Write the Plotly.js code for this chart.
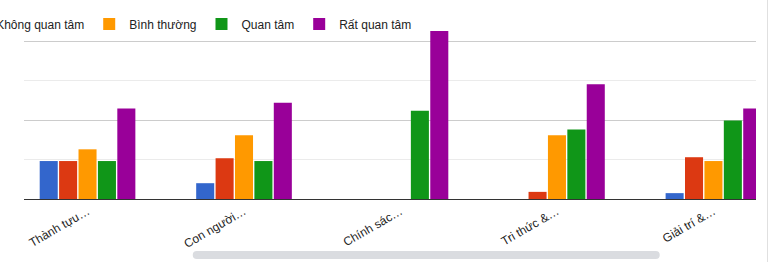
<!DOCTYPE html>
<html>
<head>
<meta charset="utf-8">
<script src="https://cdn.plot.ly/plotly-3.0.1.min.js"></script>
<style>
  html, body { margin: 0; padding: 0; background: #ffffff; }
  #chart { width: 769px; height: 262px; }
</style>
</head>
<body>
<div id="chart"></div>
<script>
// Categories (truncated labels as shown)
const categories = ['Thành tựu…', 'Con người…', 'Chính sác…', 'Tri thức &…', 'Giải trí &…'];

// Series names
const seriesNames = ['Hoàn toàn không quan tâm', 'Không quan tâm', 'Bình thường', 'Quan tâm', 'Rất quan tâm'];

// Series values (percent of respondents)
const hoanToanKhong = [14.9, 6.2, 0, 0, 2.3];
const khongQuanTam  = [14.9, 16.0, 0, 2.8, 16.4];
const binhThuong    = [19.5, 25.0, 0, 25.0, 14.9];
const quanTam       = [14.9, 14.9, 34.6, 27.3, 30.8];
const ratQuanTam    = [35.5, 37.8, 65.9, 45.0, 35.5];

const seriesValues = [hoanToanKhong, khongQuanTam, binhThuong, quanTam, ratQuanTam];
const colors = ['#3366cc', '#dc3912', '#ff9900', '#109618', '#990099'];

const traces = seriesNames.map((name, i) => ({
  type: 'bar',
  name: name,
  x: categories,
  y: seriesValues[i],
  marker: { color: colors[i], line: { width: 0 } },
  hoverinfo: 'skip'
}));

const layout = {
  width: 769,
  height: 262,
  margin: { l: 24, r: 13, t: 25, b: 63, autoexpand: false },
  paper_bgcolor: '#ffffff',
  plot_bgcolor: '#ffffff',
  font: { family: 'Arial, "Liberation Sans", sans-serif', size: 12, color: '#222222' },
  barmode: 'group',
  bargap: 0.38,
  bargroupgap: 0.07,
  showlegend: true,
  legend: {
    orientation: 'h',
    xref: 'paper', yref: 'paper',
    x: 0.536, xanchor: 'right',
    y: 1.0057, yanchor: 'middle',
    font: { size: 12, color: '#222222' },
    bgcolor: 'rgba(0,0,0,0)',
    borderwidth: 0
  },
  xaxis: {
    type: 'category',
    range: [-0.406, 4.272],
    showgrid: false,
    zeroline: false,
    showline: true,
    linecolor: '#333333',
    linewidth: 1,
    ticks: '',
    tickangle: -30,
    tickfont: { size: 12, color: '#222222' },
    fixedrange: true
  },
  yaxis: {
    range: [0, 68.3],
    tick0: 0,
    dtick: 31,
    showgrid: true,
    gridcolor: '#cccccc',
    gridwidth: 1,
    minor: { dtick: 15.5, tick0: 0, showgrid: true, gridcolor: '#ebebeb', gridwidth: 1, ticks: '' },
    zeroline: false,
    showline: false,
    showticklabels: false,
    ticks: '',
    fixedrange: true
  },
  shapes: [
    // horizontal scrollbar of the scrolling container
    {
      type: 'path',
      xref: 'paper', yref: 'paper',
      xsizemode: 'pixel', ysizemode: 'pixel',
      xanchor: 0.2305, yanchor: -0.3218,
      path: 'M4,4 L463,4 Q467,4 467,0 Q467,-4 463,-4 L4,-4 Q0,-4 0,0 Q0,4 4,4 Z',
      fillcolor: '#dadce0',
      line: { width: 0 },
      layer: 'above'
    },
    // right border of the scroll container
    {
      type: 'line',
      xref: 'paper', yref: 'paper',
      x0: 1.0157, x1: 1.0157, y0: -0.37, y1: 1.16,
      line: { color: '#e0e0e0', width: 1 },
      layer: 'above'
    }
  ]
};

Plotly.newPlot('chart', traces, layout, { displayModeBar: false, staticPlot: true });
</script>
</body>
</html>
